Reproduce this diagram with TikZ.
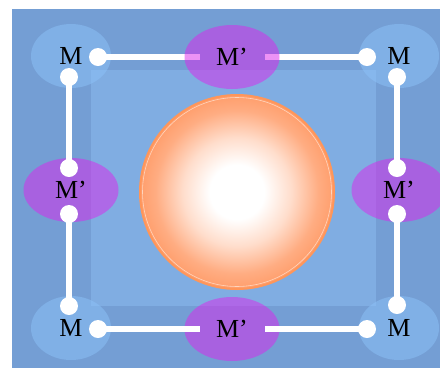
\documentclass[tikz,border=0pt]{standalone}
\usepackage{fontspec}
\setmainfont{Liberation Serif}
\usepackage{xcolor}
\definecolor{outerbg}{RGB}{116,158,212}
\definecolor{innerbg}{RGB}{128,173,226}
\definecolor{mblue}{RGB}{140,194,248}
\definecolor{mpurple}{RGB}{220,38,236}
\definecolor{ballorange}{RGB}{255,158,108}
\definecolor{ballrim}{RGB}{255,150,90}
\usetikzlibrary{shapes.geometric}
\pgfdeclareradialshading{ball}{\pgfpoint{0bp}{0bp}}{color(0bp)=(white); color(7bp)=(white); color(14bp)=(ballorange!35!white); color(21bp)=(ballorange!85!white); color(25bp)=(ballorange); color(50bp)=(ballorange)}

\begin{document}
\begin{tikzpicture}[
            x=1pt, y=-1pt,
            wire/.style={white, line width=6pt},
            dot/.style={circle, fill=white, inner sep=0pt, minimum size=18pt},
            mnode/.style={ellipse, fill=mblue, fill opacity=0.5, text opacity=1, minimum width=80pt, minimum height=64pt, inner sep=0pt, font=\fontsize{26}{30}\selectfont},
            mpnode/.style={ellipse, fill=mpurple, fill opacity=0.5, text opacity=1, minimum width=95pt, minimum height=64pt, inner sep=0pt, font=\fontsize{26}{30}\selectfont}
        ]
            \useasboundingbox (0,0) rectangle (440,368);
            % Background
            \fill[outerbg] (12,9) rectangle (440,368);
            \fill[innerbg] (91,70) rectangle (376,306);

            % Sphere
            \shade[shading=ball] (237,192) circle (97pt);
            \draw[ballrim, line width=2pt] (237,192) circle (97pt);
            \draw[white!60!ballrim, line width=0.6pt] (237,192) circle (94.5pt);

            % Dot positions
            \coordinate (tlh) at (98,57);
            \coordinate (tlv) at (69,77);
            \coordinate (trh) at (367,57);
            \coordinate (trv) at (397,77);
            \coordinate (blh) at (98,329);
            \coordinate (blv) at (69,306);
            \coordinate (brh) at (367,329);
            \coordinate (brv) at (397,305);
            \coordinate (lu) at (69,168);
            \coordinate (ld) at (69,214);
            \coordinate (ru) at (397,168);
            \coordinate (rd) at (397,214);

            % Nodes
            \node[mnode] (mtl) at (71,56) {M};
            \node[mnode] (mtr) at (399,56) {M};
            \node[mnode] (mbl) at (71,328) {M};
            \node[mnode] (mbr) at (399,328) {M};

            % Top links (under the ellipse)
            \draw[wire, shorten >=32pt] (tlh) -- (232,57) coordinate (mtc);
            \draw[wire, shorten >=33pt] (trh) -- (mtc);

            \node[mpnode] (mtop) at (mtc) {M’};
            \node[mpnode] (mbot) at (232,329) {M’};
            \node[mpnode] (mleft) at (71,190) {M’};
            \node[mpnode] (mright) at (399,190) {M’};

            % Bottom links
            \draw[wire, shorten >=32pt] (blh) -- (mbot.center);
            \draw[wire, shorten >=33pt] (brh) -- (mbot.center);

            % Side links
            \draw[wire] (tlv) -- (lu);
            \draw[wire] (ld) -- (blv);
            \draw[wire] (trv) -- (ru);
            \draw[wire] (rd) -- (brv);

            % Dots
            \foreach \d in {tlh, tlv, trh, trv, blh, blv, brh, brv, lu, ld, ru, rd}
                \node[dot] (\d dot) at (\d) {};
        \end{tikzpicture}
\end{document}
